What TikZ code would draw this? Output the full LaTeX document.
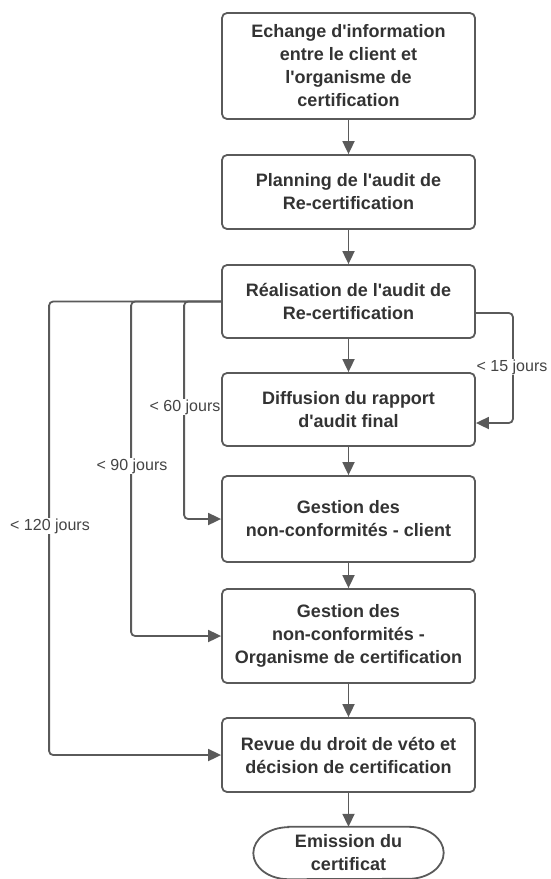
\documentclass[tikz,border=0pt]{standalone}
\usepackage{fontspec}
\setmainfont{Liberation Sans}
\usetikzlibrary{arrows.meta,calc}
\definecolor{ln}{HTML}{5A5A5A}
\definecolor{tx}{HTML}{333333}
\definecolor{lb}{HTML}{444444}
\newcommand{\ap}{\textquotesingle}
\begin{document}
\begin{tikzpicture}[x=1pt,y=1pt,
 box/.style={draw=ln, line width=1.8pt, rounded corners=5pt, minimum width=253pt, text=tx,
   font=\bfseries\fontsize{18}{23}\selectfont, align=center, inner sep=0pt},
 conn/.style={draw=ln, line width=1.8pt, -{Triangle[length=13pt,width=12pt]}, rounded corners=4pt},
 lbl/.style={fill=white, text=lb, font=\fontsize{16}{19}\selectfont, inner sep=1pt}]
\useasboundingbox (0,0) rectangle (550,-879);
\node[box, minimum height=106pt] (b1) at (348.5,-66) {Echange d\ap information\\entre le client et\\l\ap organisme de\\certification};
\node[box, minimum height=74pt] (b2) at (348.5,-192) {Planning de l\ap audit de\\Re-certification};
\node[box, minimum height=73pt] (b3) at (348.5,-301.5) {Réalisation de l\ap audit de\\Re-certification};
\node[box, minimum height=73pt] (b4) at (348.5,-409.5) {Diffusion du rapport\\d\ap audit final};
\node[box, minimum height=86pt] (b5) at (348.5,-519) {Gestion des\\non-conformités - client};
\node[box, minimum height=94pt] (b6) at (348.5,-636) {Gestion des\\non-conformités -\\Organisme de certification};
\node[box, minimum height=74pt] (b7) at (348.5,-755) {Revue du droit de véto et\\décision de certification};
\node[text=tx, font=\bfseries\fontsize{18}{23}\selectfont, align=center, inner sep=0pt,
  minimum width=190pt, minimum height=52pt] (em) at (348.5,-853) {Emission du\\certificat};
\draw[ln, line width=1.8pt] ([xshift=35pt]em.north west) -- ([xshift=-35pt]em.north east)
  arc[start angle=90,end angle=-90,x radius=35pt,y radius=26pt]
  -- ([xshift=35pt]em.south west)
  arc[start angle=270,end angle=90,x radius=35pt,y radius=26pt] -- cycle;
\draw[conn] (b1.south) -- (b2.north);
\draw[conn] (b2.south) -- (b3.north);
\draw[conn] (b3.south) -- (b4.north);
\draw[conn] (b4.south) -- (b5.north);
\draw[conn] (b5.south) -- (b6.north);
\draw[conn] (b6.south) -- (b7.north);
\draw[conn] (b7.south) -- (em.north);
\coordinate (r1) at ([yshift=-11.5pt]b3.east);
\coordinate (r2) at ([yshift=-13.5pt]b4.east);
\draw[conn] (r1) -- ++(37,0) |- (r2);
\draw[conn] (b3.west) -| ([xshift=-37pt]b5.west) -- (b5.west);
\draw[conn] (b3.west) -| ([xshift=-90pt]b6.west) -- (b6.west);
\draw[conn] (b3.west) -| ([xshift=-172pt]b7.west) -- (b7.west);
\node[lbl] (l15) at (512,-367) {< 15 jours};
\node[lbl] (l60) at (185,-407) {< 60 jours};
\node[lbl] (l90) at (132,-466) {< 90 jours};
\node[lbl] (l120) at (50,-526) {< 120 jours};
\end{tikzpicture}
\end{document}
